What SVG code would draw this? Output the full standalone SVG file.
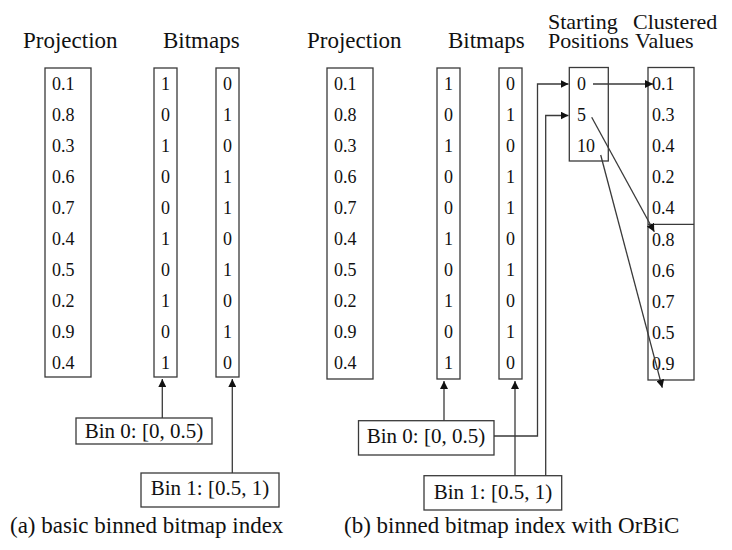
<svg xmlns="http://www.w3.org/2000/svg" width="732" height="550" viewBox="0 0 732 550">
  <style>
    .bg { fill: #ffffff; }
    .box { fill: none; stroke: #3a3a3a; stroke-width: 1.3; }
    .ln { fill: none; stroke: #3a3a3a; stroke-width: 1.3; }
    .title { font-family: "Liberation Serif", "Times New Roman", serif; font-size: 23px; fill: #111; }
    .head { font-family: "Liberation Serif", "Times New Roman", serif; font-size: 22px; fill: #111; }
    .cell { font-family: "Liberation Serif", "Times New Roman", serif; font-size: 18px; fill: #111; }
    .bin { font-family: "Liberation Serif", "Times New Roman", serif; font-size: 21px; fill: #111; }
    .cap { font-family: "Liberation Serif", "Times New Roman", serif; font-size: 23px; fill: #111; }
    .mid { text-anchor: middle; }
  </style>
  <defs>
    <marker id="arrow" viewBox="0 0 10 10" refX="10" refY="5" markerWidth="8" markerHeight="8" markerUnits="userSpaceOnUse" orient="auto">
      <path d="M0,0 L10,5 L0,10 z" fill="#111"/>
    </marker>
  </defs>
  <rect class="bg" x="0" y="0" width="732" height="550"/>

  <!-- (a) basic binned bitmap index -->
  <g id="a-titles">
    <text class="title" x="23" y="48">Projection</text>
    <text class="title" x="163" y="48">Bitmaps</text>
  </g>

  <g id="a-projection">
    <rect class="box" x="45" y="68" width="46" height="309"/>
    <text class="cell" x="52" y="90">0.1</text>
    <text class="cell" x="52" y="121">0.8</text>
    <text class="cell" x="52" y="152">0.3</text>
    <text class="cell" x="52" y="183">0.6</text>
    <text class="cell" x="52" y="214">0.7</text>
    <text class="cell" x="52" y="245">0.4</text>
    <text class="cell" x="52" y="276">0.5</text>
    <text class="cell" x="52" y="307">0.2</text>
    <text class="cell" x="52" y="338">0.9</text>
    <text class="cell" x="52" y="369">0.4</text>
  </g>

  <g id="a-bitmap0">
    <rect class="box" x="154" y="68" width="23" height="309"/>
    <g class="cell mid">
      <text x="165.5" y="90">1</text>
      <text x="165.5" y="121">0</text>
      <text x="165.5" y="152">1</text>
      <text x="165.5" y="183">0</text>
      <text x="165.5" y="214">0</text>
      <text x="165.5" y="245">1</text>
      <text x="165.5" y="276">0</text>
      <text x="165.5" y="307">1</text>
      <text x="165.5" y="338">0</text>
      <text x="165.5" y="369">1</text>
    </g>
  </g>

  <g id="a-bitmap1">
    <rect class="box" x="216" y="68" width="23" height="309"/>
    <g class="cell mid">
      <text x="227.5" y="90">0</text>
      <text x="227.5" y="121">1</text>
      <text x="227.5" y="152">0</text>
      <text x="227.5" y="183">1</text>
      <text x="227.5" y="214">1</text>
      <text x="227.5" y="245">0</text>
      <text x="227.5" y="276">1</text>
      <text x="227.5" y="307">0</text>
      <text x="227.5" y="338">1</text>
      <text x="227.5" y="369">0</text>
    </g>
  </g>

  <g id="a-bin0">
    <rect class="box" x="76" y="418" width="136" height="26"/>
    <text class="bin mid" x="144" y="437.5">Bin 0: [0, 0.5)</text>
  </g>

  <g id="a-bin1">
    <rect class="box" x="141" y="473" width="138" height="34"/>
    <text class="bin mid" x="210" y="495">Bin 1: [0.5, 1)</text>
  </g>

  <!-- (b) binned bitmap index with OrBiC -->
  <g id="b-titles">
    <text class="title" x="307" y="48">Projection</text>
    <text class="title" x="448" y="48">Bitmaps</text>
    <text class="head"><tspan x="548" y="29">Starting</tspan><tspan x="548" y="48">Positions</tspan></text>
    <text class="head"><tspan x="633" y="29">Clustered</tspan><tspan x="635" y="48">Values</tspan></text>
  </g>

  <g id="b-projection">
    <rect class="box" x="327" y="68" width="46" height="311"/>
    <text class="cell" x="334" y="90">0.1</text>
    <text class="cell" x="334" y="121">0.8</text>
    <text class="cell" x="334" y="152">0.3</text>
    <text class="cell" x="334" y="183">0.6</text>
    <text class="cell" x="334" y="214">0.7</text>
    <text class="cell" x="334" y="245">0.4</text>
    <text class="cell" x="334" y="276">0.5</text>
    <text class="cell" x="334" y="307">0.2</text>
    <text class="cell" x="334" y="338">0.9</text>
    <text class="cell" x="334" y="369">0.4</text>
  </g>

  <g id="b-bitmap0">
    <rect class="box" x="437" y="68" width="23" height="311"/>
    <g class="cell mid">
      <text x="448.5" y="90">1</text>
      <text x="448.5" y="121">0</text>
      <text x="448.5" y="152">1</text>
      <text x="448.5" y="183">0</text>
      <text x="448.5" y="214">0</text>
      <text x="448.5" y="245">1</text>
      <text x="448.5" y="276">0</text>
      <text x="448.5" y="307">1</text>
      <text x="448.5" y="338">0</text>
      <text x="448.5" y="369">1</text>
    </g>
  </g>

  <g id="b-bitmap1">
    <rect class="box" x="499" y="68" width="23" height="311"/>
    <g class="cell mid">
      <text x="510.5" y="90">0</text>
      <text x="510.5" y="121">1</text>
      <text x="510.5" y="152">0</text>
      <text x="510.5" y="183">1</text>
      <text x="510.5" y="214">1</text>
      <text x="510.5" y="245">0</text>
      <text x="510.5" y="276">1</text>
      <text x="510.5" y="307">0</text>
      <text x="510.5" y="338">1</text>
      <text x="510.5" y="369">0</text>
    </g>
  </g>

  <g id="b-starting-positions">
    <rect class="box" x="569.3" y="67.5" width="39" height="93.5"/>
    <text class="cell" x="577" y="90">0</text>
    <text class="cell" x="577" y="121">5</text>
    <text class="cell" x="577" y="152">10</text>
  </g>

  <g id="b-clustered-values">
    <rect class="box" x="648" y="67.5" width="46" height="312.5"/>
    <line class="ln" x1="648" y1="224.3" x2="694" y2="224.3"/>
    <text class="cell" x="652" y="90">0.1</text>
    <text class="cell" x="652" y="121">0.3</text>
    <text class="cell" x="652" y="152">0.4</text>
    <text class="cell" x="652" y="183">0.2</text>
    <text class="cell" x="652" y="214">0.4</text>
    <text class="cell" x="652" y="246">0.8</text>
    <text class="cell" x="652" y="277">0.6</text>
    <text class="cell" x="652" y="308">0.7</text>
    <text class="cell" x="652" y="339">0.5</text>
    <text class="cell" x="652" y="370">0.9</text>
  </g>

  <g id="b-bin0">
    <rect class="box" x="358.5" y="420.7" width="135.5" height="34.3"/>
    <text class="bin mid" x="426" y="443">Bin 0: [0, 0.5)</text>
  </g>

  <g id="b-bin1">
    <rect class="box" x="424" y="475.7" width="137.7" height="34.3"/>
    <text class="bin mid" x="493" y="499">Bin 1: [0.5, 1)</text>
  </g>

  <!-- connectors -->
  <g id="connectors">
    <line class="ln" x1="162.3" y1="418" x2="162.3" y2="379" marker-end="url(#arrow)"/>
    <line class="ln" x1="232.3" y1="473" x2="232.3" y2="379" marker-end="url(#arrow)"/>
    <line class="ln" x1="444" y1="420.7" x2="444" y2="381" marker-end="url(#arrow)"/>
    <line class="ln" x1="515" y1="475.7" x2="515" y2="381" marker-end="url(#arrow)"/>
    <polyline class="ln" points="494,436 537.5,436 537.5,84 568.5,84" marker-end="url(#arrow)"/>
    <polyline class="ln" points="545.7,475.7 545.7,115.5 568.5,115.5" marker-end="url(#arrow)"/>
    <line class="ln" x1="593" y1="84" x2="653" y2="84" marker-end="url(#arrow)"/>
    <line class="ln" x1="591.7" y1="117.3" x2="654.3" y2="231.7" marker-end="url(#arrow)"/>
    <line class="ln" x1="600.7" y1="155" x2="662.3" y2="387.7" marker-end="url(#arrow)"/>
  </g>

  <g id="captions">
    <text class="cap" x="10" y="533">(a) basic binned bitmap index</text>
    <text class="cap" x="344" y="533">(b) binned bitmap index with OrBiC</text>
  </g>
</svg>
